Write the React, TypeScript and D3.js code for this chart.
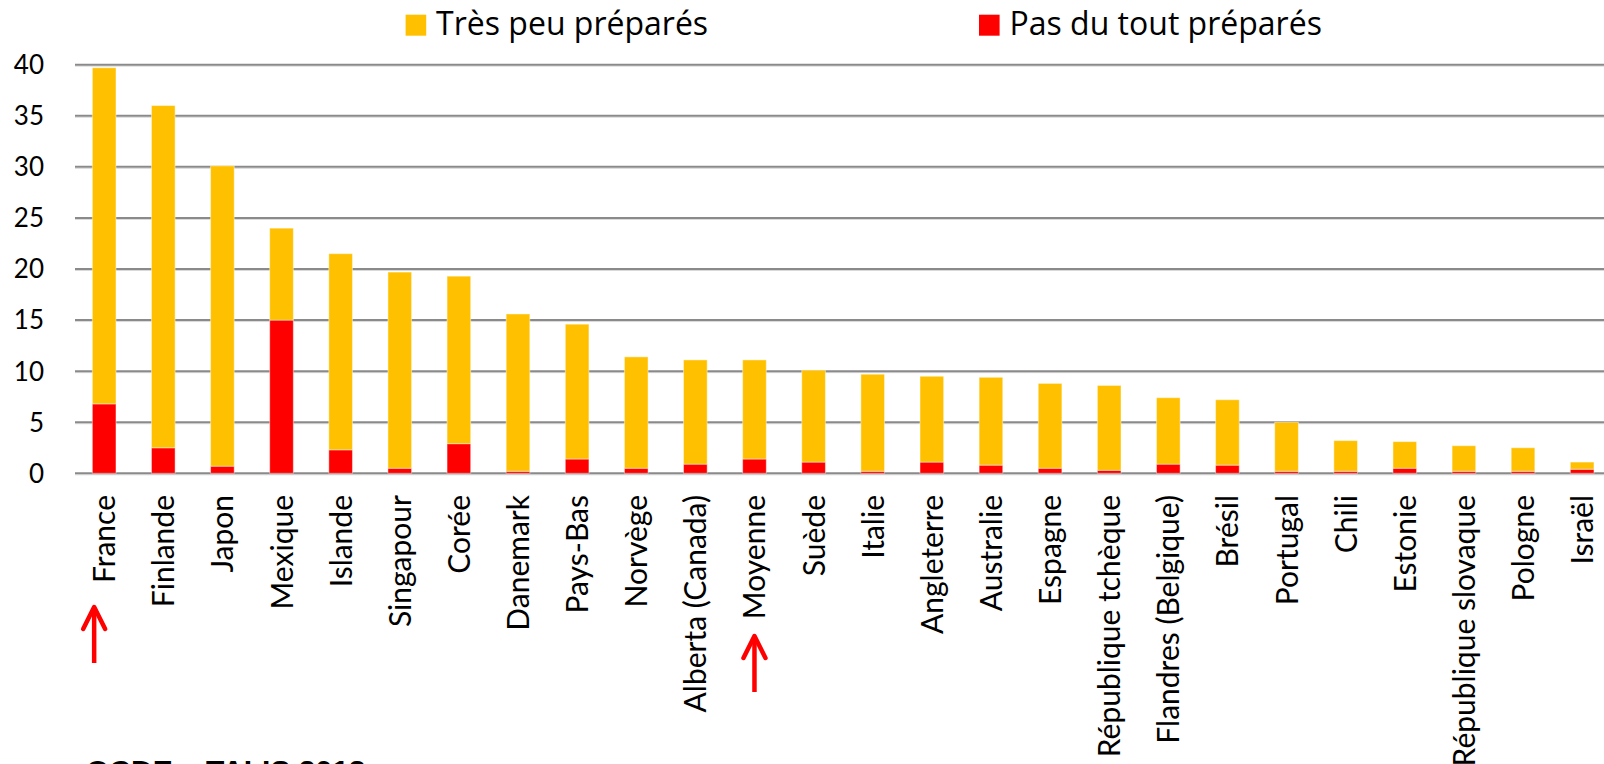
import * as d3 from 'd3'

// TALIS 2013 – share of teachers who feel not well prepared
const categories = [
  'France', 'Finlande', 'Japon', 'Mexique', 'Islande', 'Singapour', 'Corée', 'Danemark',
  'Pays-Bas', 'Norvège', 'Alberta (Canada)', 'Moyenne', 'Suède', 'Italie', 'Angleterre',
  'Australie', 'Espagne', 'République tchèque', 'Flandres (Belgique)', 'Brésil', 'Portugal',
  'Chili', 'Estonie', 'République slovaque', 'Pologne', 'Israël',
]
// "Pas du tout préparés" (bottom, red)
const pasDuTout = [6.8, 2.5, 0.7, 15.0, 2.3, 0.5, 2.9, 0.2, 1.4, 0.5, 0.9, 1.4, 1.1, 0.2, 1.1, 0.8, 0.5, 0.3, 0.9, 0.8, 0.2, 0.2, 0.5, 0.2, 0.2, 0.4]
// "Très peu préparés" (stacked on top, yellow)
const tresPeu = [32.9, 33.5, 29.4, 9.0, 19.2, 19.2, 16.4, 15.4, 13.2, 10.9, 10.2, 9.7, 9.0, 9.5, 8.4, 8.6, 8.3, 8.3, 6.5, 6.4, 4.8, 3.0, 2.6, 2.5, 2.3, 0.7]
const yTicks = [0, 5, 10, 15, 20, 25, 30, 35, 40]
const seriesNames = ['Très peu préparés', 'Pas du tout préparés']
const arrowTargets = [{ label: 'France', dx: -10, top: 607, bottom: 663 }, { label: 'Moyenne', dx: 0, top: 636, bottom: 692 }]
const source = 'OCDE – TALIS 2013'

const W = 1604
const H = 764
const YELLOW = '#FFC000'
const RED = '#FF0000'
const FONT = 'Lato, "Open Sans", sans-serif'

export default function App() {
  const x = d3.scaleBand().domain(categories).range([74.6, 1611.7]).paddingInner(0.6).paddingOuter(0.3)
  const y = d3.scaleLinear().domain([0, 40]).range([473.3, 64.7])

  const rows = categories.map((c, i) => ({ c, red: pasDuTout[i], yel: tresPeu[i] }))
  const stack = d3.stack<any>().keys(['red', 'yel'])(rows)
  const colors: Record<string, string> = { red: RED, yel: YELLOW }

  return (
    <svg width={W} height={H} style={{ position: 'absolute', left: 0, top: 0, background: '#fff' }}>
      {/* gridlines */}
      {yTicks.map(t => (
        <g key={t}>
          <line x1={75} x2={W} y1={y(t) + 1.5} y2={y(t) + 1.5} stroke="#d9d9d9" strokeWidth={1} />
          <line x1={75} x2={W} y1={y(t)} y2={y(t)} stroke="#8a8a8a" strokeWidth={2} />
          <text x={44} y={y(t)} dy="0.36em" textAnchor="end" fontFamily={FONT} fontSize={26} fill="#000">{t}</text>
        </g>
      ))}

      {/* stacked bars */}
      {stack.map(layer => (
        <g key={layer.key} fill={colors[layer.key]}>
          {layer.map((d, i) => (
            <rect
              key={i}
              x={x(categories[i])}
              y={y(d[1])}
              width={x.bandwidth()}
              height={y(d[0]) - y(d[1])}
              stroke="rgba(255,255,255,0.45)"
              strokeWidth={1}
            />
          ))}
        </g>
      ))}

      {/* category labels */}
      {categories.map(c => (
        <text
          key={c}
          transform={`translate(${x(c)! + x.bandwidth() / 2 + 11},495) rotate(-90)`}
          textAnchor="end"
          fontFamily={FONT}
          fontSize={30}
          fill="#000"
        >{c}</text>
      ))}

      {/* legend */}
      {seriesNames.map((s, i) => {
        const lx = i === 0 ? 405.6 : 979
        return (
          <g key={s}>
            <rect x={lx} y={14.7} width={20.6} height={21} fill={i === 0 ? YELLOW : RED} />
            <text x={lx + 30.5} y={35} fontFamily='"Open Sans", sans-serif' fontSize={32} fill="#000">{s}</text>
          </g>
        )
      })}

      {/* red arrows */}
      {arrowTargets.map(a => {
        const ax = x(a.label)! + x.bandwidth() / 2 + a.dx
        return (
          <g key={a.label} stroke={RED} strokeWidth={4.5} fill="none" strokeLinecap="round" strokeLinejoin="round">
            <line x1={ax} x2={ax} y1={a.top + 2} y2={a.bottom} strokeLinecap="butt" />
            <polyline points={`${ax - 11},${a.top + 22} ${ax},${a.top} ${ax + 11},${a.top + 22}`} />
          </g>
        )
      })}

      <text x={86} y={781} fontFamily='"Liberation Sans", Arial, sans-serif' fontWeight="bold" fontSize={30} fill="#000">{source}</text>
    </svg>
  )
}
